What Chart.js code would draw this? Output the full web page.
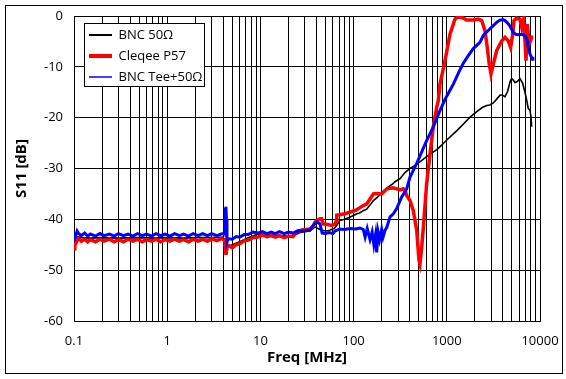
<!DOCTYPE html>
<html>
<head>
<meta charset="utf-8">
<script src="https://cdn.jsdelivr.net/npm/chart.js@4"></script>
<style>
html,body{margin:0;padding:0;background:#fff;}
canvas{display:block;}
</style>
</head>
<body>
<canvas id="c" width="566" height="379" style="width:566px;height:379px"></canvas>
<script>
// ---- data (frequency in MHz, S11 in dB) ----
const seriesLabels = ['BNC 50\u03A9', 'Cleqee P57', 'BNC Tee+50\u03A9'];

const bncFreq = [
  0.1,0.105,0.11,0.12,0.15,0.2,0.3,0.5,0.7,1,
  1.5,2,3,4,4.15,4.22,4.27,4.33,4.4,4.6,
  5,6,7.4,9.4,12,16,22,26.6,34,38.5,
  43.6,47.3,53,58,63,66,71,80,91,106,
  117,127,138,150,163,177,200,228,265,278,
  315,356,403,456,540,633,780,881,1000,1175,
  1276,1500,1774,2100,2400,2680,2900,3154,3450,3722,
  3950,4209,4500,4800,4966,5166,5393,5700,6100,6500,
  6900,7200,7484,7800,8000,8148
];
const bncS11 = [
  -45.0,-44.0,-43.4,-43.6,-43.7,-43.6,-43.7,-43.6,-43.7,-43.6,
  -43.7,-43.6,-43.6,-43.5,-42.5,-39.5,-40.5,-44.5,-45.5,-45.3,
  -45.0,-44.4,-43.6,-42.9,-43.0,-43.2,-43.3,-42.6,-42.3,-41.5,
  -42.0,-42.2,-42.3,-42.0,-41.7,-41.2,-40.2,-40.0,-39.6,-39.0,
  -38.7,-38.3,-38.0,-37.2,-36.3,-35.8,-34.8,-33.8,-33.0,-32.6,
  -32.0,-30.8,-30.0,-29.4,-28.4,-27.4,-26.3,-25.4,-24.4,-23.2,
  -22.6,-21.3,-19.9,-18.8,-18.0,-17.6,-17.5,-17.1,-16.3,-15.6,
  -15.5,-15.9,-14.8,-12.8,-12.3,-12.6,-13.1,-12.9,-12.3,-13.2,
  -15.0,-16.6,-18.2,-18.5,-19.8,-21.8
];

const cleqeeFreq = [
  0.1,0.102,0.106,0.11,0.115,0.12,0.13,0.14,0.15,0.17,
  0.19,0.21,0.24,0.27,0.3,0.34,0.38,0.43,0.48,0.54,
  0.6,0.68,0.76,0.85,0.95,1.07,1.2,1.35,1.5,1.7,
  1.9,2.15,2.4,2.7,3,3.4,3.8,4.1,4.15,4.22,
  4.27,4.32,4.4,4.6,5,5.5,6,6.7,7.4,8.3,
  9.4,10.5,11.8,13,14.5,16,18,20,22.4,24.5,
  28,34,36.7,38.5,40.5,43.6,45.5,47.3,52,58,
  63,65,66,71,80,91,106,117,127,138,
  150,163,177,200,228,265,290,315,341,356,
  371,403,437,476,503,515,538,560,608,661,
  716,780,811,845,957,1082,1225,1327,1503,1633,
  1923,2177,2366,2570,2718,2856,2979,3154,3428,3881,
  4209,4567,4843,5091,5261,5623,6100,6363,6622,6905,
  7079,7305,7674,8148,8472
];
const cleqeeS11 = [
  -45.8,-45.0,-44.5,-43.8,-43.9,-44.3,-43.9,-44.4,-44.0,-44.4,
  -43.9,-44.3,-43.9,-44.4,-44.0,-44.4,-43.9,-44.3,-43.9,-44.4,
  -44.0,-44.3,-43.9,-44.4,-44.0,-44.3,-43.9,-44.3,-44.0,-44.4,
  -43.9,-44.3,-43.9,-44.3,-43.8,-44.2,-43.8,-44.0,-44.3,-46.0,
  -47.0,-46.2,-45.5,-45.2,-45.6,-45.0,-44.8,-44.2,-44.1,-43.6,
  -43.5,-43.1,-43.4,-43.2,-43.5,-43.2,-43.6,-43.3,-43.4,-42.4,
  -42.1,-41.9,-41.4,-40.6,-40.2,-39.9,-39.9,-40.9,-41.0,-41.2,
  -41.0,-40.4,-39.2,-39.1,-38.9,-38.6,-38.2,-37.7,-37.3,-37.0,
  -36.0,-35.0,-34.9,-35.0,-34.0,-33.8,-34.0,-34.2,-34.0,-34.3,
  -35.3,-36.3,-38.3,-42.2,-48.1,-48.8,-45.5,-41.6,-33.0,-27.1,
  -21.8,-17.9,-16.6,-13.4,-8.8,-3.6,-0.6,-0.1,-0.4,-0.8,
  -0.8,-0.6,-0.9,-2.9,-6.2,-9.5,-11.4,-9.5,-6.8,-4.9,
  -4.2,-4.9,-6.2,-3.6,-0.9,-0.4,-0.6,-2.2,-0.9,-4.9,
  -8.8,-1.6,-5.5,-4.2,-4.2
];

const teeFreq = [
  0.1,0.103,0.106,0.108,0.112,0.12,0.13,0.14,0.15,0.17,
  0.19,0.21,0.24,0.27,0.3,0.34,0.38,0.43,0.48,0.54,
  0.6,0.68,0.76,0.85,0.95,1.07,1.2,1.35,1.5,1.7,
  1.9,2.15,2.4,2.7,3,3.4,3.8,4.1,4.15,4.22,
  4.27,4.32,4.38,4.5,5,5.5,6,6.7,7.4,8.3,
  9.4,10.5,11.8,13,14.5,16,18,20,22.4,25,
  30,34,36.7,40.5,43.6,46,50,55,60,63,
  71,80,91,106,117,127,133,140,150,158,
  165,172,177,183,190,200,207,217,228,246,
  267,290,328,371,403,476,560,608,716,850,
  957,1082,1175,1350,1503,1700,1923,2270,2464,2800,
  3154,3450,3722,4000,4209,4500,4764,5166,5500,5848,
  6300,6622,7000,7305,7484,7809,8262,8400
];
const teeS11 = [
  -44.2,-43.5,-42.8,-42.3,-42.8,-43.2,-42.7,-43.3,-42.9,-43.3,
  -42.8,-43.2,-42.9,-43.3,-42.8,-43.2,-42.9,-43.3,-42.8,-43.2,
  -42.9,-43.3,-42.8,-43.2,-42.9,-43.3,-42.8,-43.2,-42.9,-43.3,
  -42.8,-43.2,-42.8,-43.2,-42.8,-43.2,-42.9,-42.8,-42.0,-38.0,
  -37.5,-40.0,-44.5,-43.8,-43.9,-43.4,-43.5,-43.0,-43.0,-42.5,
  -42.7,-42.4,-42.8,-42.5,-42.8,-42.4,-42.8,-42.5,-42.7,-42.3,
  -42.2,-42.1,-41.2,-40.5,-40.9,-42.7,-42.8,-42.6,-42.8,-42.3,
  -41.9,-42.0,-41.8,-41.9,-41.7,-42.0,-43.5,-41.8,-44.0,-42.5,
  -45.0,-43.0,-46.5,-42.5,-44.0,-42.0,-43.5,-42.2,-41.5,-39.5,
  -38.9,-37.9,-35.6,-34.0,-31.7,-29.0,-26.0,-24.5,-21.8,-18.5,
  -16.4,-14.6,-13.4,-11.0,-9.3,-7.8,-6.4,-5.2,-3.8,-2.8,
  -1.9,-1.2,-0.8,-0.7,-0.9,-1.4,-2.0,-3.2,-3.6,-3.7,
  -3.6,-3.7,-4.0,-4.9,-6.2,-7.5,-8.5,-8.0
];

// ---- axes ----
const xTickLabels = [0.1, 1, 10, 100, 1000, 10000];
const xMinorMultipliers = [1, 2, 3, 4, 5, 6, 7, 8, 9];
const yMin = -60, yMax = 0, yStep = 10;

const xGrid = [];
xTickLabels.forEach(d => {
  if (d === 10000) { xGrid.push(d); return; }
  xMinorMultipliers.forEach(m => xGrid.push(m === 1 ? d : +(d * m).toPrecision(6)));
});

function points(fs, vs) { return fs.map((f, i) => ({ x: f, y: vs[i] })); }

const legendLineWidths = [2, 4, 1];

const framePlugin = {
  id: 'frame',
  afterLayout(chart) {
    if (chart.legend) { chart.legend.left = 81; chart.legend.top = 20.5; }
  },
  beforeDraw(chart) {
    const ctx = chart.ctx;
    ctx.save();
    ctx.fillStyle = '#fff';
    ctx.fillRect(0, 0, chart.width, chart.height);
    ctx.strokeStyle = '#000';
    ctx.lineWidth = 1;
    ctx.strokeRect(5.5, 5.5, 557, 368);
    ctx.restore();
  },
  afterDraw(chart) {
    const ctx = chart.ctx;
    ctx.save();
    ctx.fillStyle = '#fff';
    ctx.fillRect(84.5, 23.5, 120, 63);
    ctx.strokeStyle = '#000';
    ctx.lineWidth = 1;
    ctx.strokeRect(84.5, 23.5, 120, 63);
    ctx.restore();
    chart.legend.draw();
  }
};

Chart.defaults.font.family = "'Open Sans', 'DejaVu Sans', sans-serif";
Chart.defaults.color = '#000';

new Chart(document.getElementById('c'), {
  type: 'line',
  data: {
    datasets: [
      { label: seriesLabels[0], data: points(bncFreq, bncS11), borderColor: '#000000', backgroundColor: '#000000', borderWidth: 1.6, pointRadius: 0, tension: 0, order: 3 },
      { label: seriesLabels[1], data: points(cleqeeFreq, cleqeeS11), borderColor: '#ff0000', backgroundColor: '#ff0000', borderWidth: 3.5, pointRadius: 0, tension: 0, order: 2 },
      { label: seriesLabels[2], data: points(teeFreq, teeS11), borderColor: '#0000ff', backgroundColor: '#0000ff', borderWidth: 3, pointRadius: 0, tension: 0, order: 1 }
    ]
  },
  options: {
    responsive: false,
    animation: false,
    devicePixelRatio: 1,
    layout: { padding: { left: 0, right: 26, top: 16, bottom: 0 } },
    plugins: {
      tooltip: { enabled: false },
      legend: {
        display: true,
        position: 'chartArea',
        align: 'start',
        labels: {
          boxWidth: 23,
          boxHeight: 0,
          padding: 8,
          color: '#000',
          font: { size: 13 },
          generateLabels: chart => chart.data.datasets.map((ds, i) => ({
            text: ds.label,
            fillStyle: ds.borderColor,
            strokeStyle: ds.borderColor,
            lineWidth: legendLineWidths[i],
            fontColor: '#000',
            hidden: false,
            datasetIndex: i
          }))
        }
      }
    },
    scales: {
      x: {
        type: 'logarithmic',
        min: xTickLabels[0],
        max: xTickLabels[xTickLabels.length - 1],
        afterBuildTicks: s => { s.ticks = xGrid.map(v => ({ value: v })); },
        afterFit: s => { s.height = 58; s.paddingLeft = 0; s.paddingRight = 0; },
        grid: { color: '#000', lineWidth: 1, drawTicks: false },
        border: { color: '#000', width: 1 },
        ticks: {
          autoSkip: false, maxRotation: 0, minRotation: 0, padding: 12, color: '#000',
          font: { size: 13 },
          callback: v => xTickLabels.includes(v) ? String(v) : ''
        },
        title: { display: true, text: 'Freq [MHz]', color: '#000', font: { size: 15, weight: 'bold' }, padding: { top: 0, bottom: 12 } }
      },
      y: {
        type: 'linear',
        min: yMin, max: yMax,
        afterFit: s => { s.width = 74; s.paddingTop = 0; s.paddingBottom = 0; },
        grid: { color: '#000', lineWidth: 1, drawTicks: false },
        border: { color: '#000', width: 1 },
        ticks: { stepSize: yStep, padding: 11, color: '#000', font: { size: 13 } },
        title: { display: true, text: 'S11 [dB]', color: '#000', font: { size: 15, weight: 'bold' }, padding: { top: 13, bottom: 0 } }
      }
    }
  },
  plugins: [framePlugin]
});
</script>
</body>
</html>
